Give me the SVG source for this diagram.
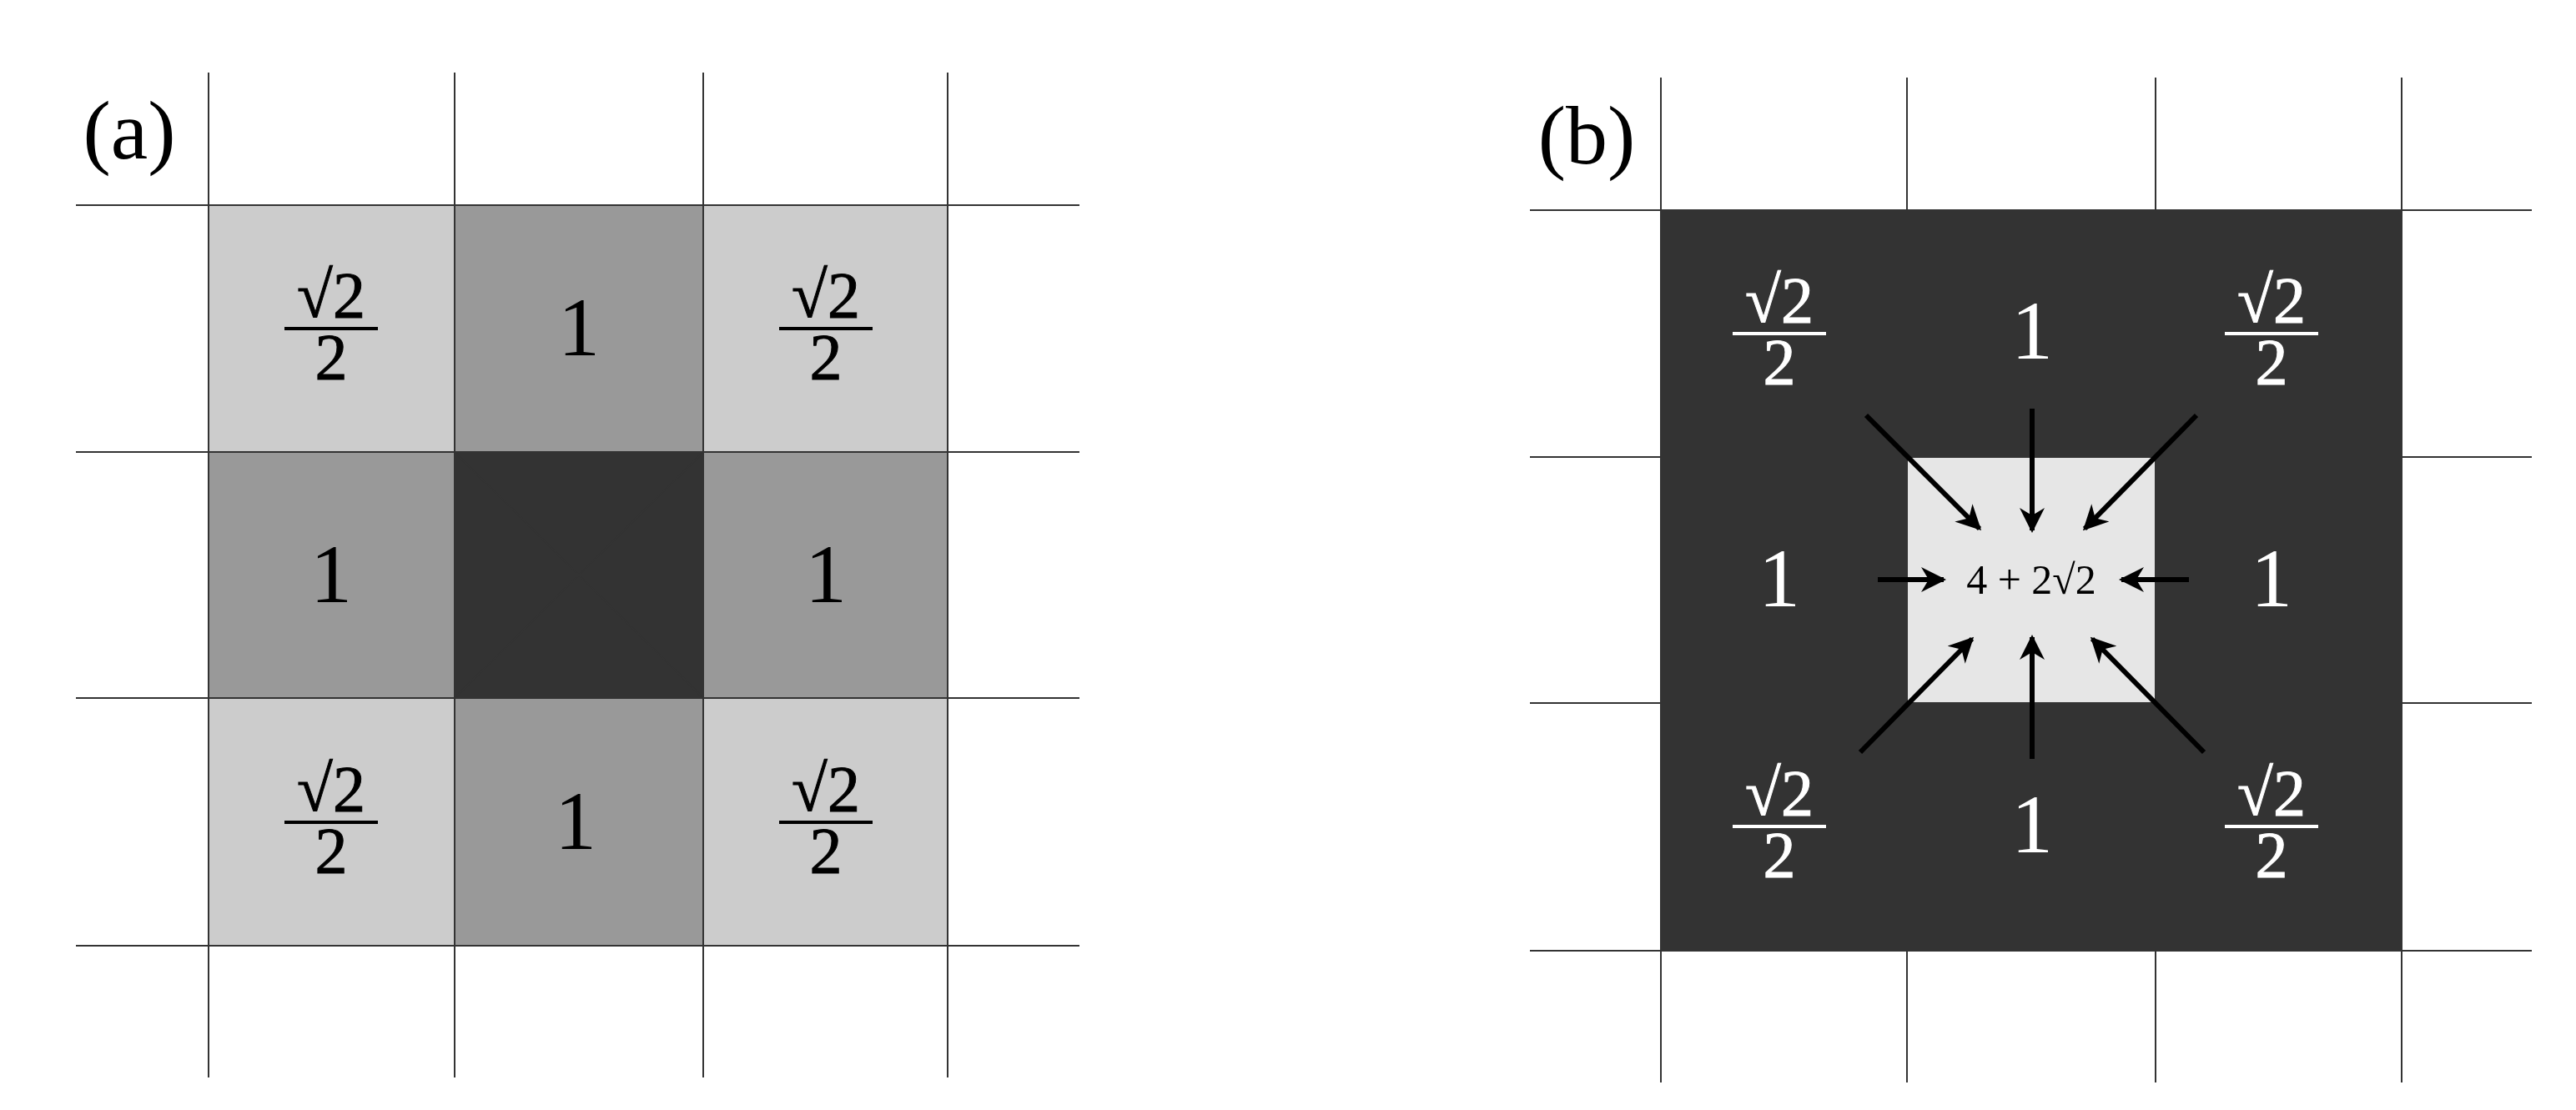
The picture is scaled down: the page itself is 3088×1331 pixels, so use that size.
<svg xmlns="http://www.w3.org/2000/svg" width="3088" height="1331" viewBox="0 0 3088 1331">
<style>
.g{stroke:#333;stroke-width:2;fill:none}
.t{font-family:"Liberation Serif",serif;text-anchor:middle}
.n{font-size:100px}
.f{font-size:78px}
.w{fill:#fff}
.k{fill:#000}
.ar{stroke:#000;stroke-width:6;fill:none;marker-end:url(#ah)}
</style>
<defs>
<marker id="ah" viewBox="0 0 10 10" refX="9" refY="5" markerWidth="5" markerHeight="5" orient="auto" markerUnits="strokeWidth"><path d="M0,0 L10,5 L0,10 L3,5 Z" fill="#000"/></marker>
<g id="frac"><text class="t f" x="0" y="-14">√2</text><line x1="-56" y1="0" x2="56" y2="0" stroke-width="4"/><text class="t f" x="0" y="60">2</text></g>
</defs>
<rect width="3088" height="1331" fill="#fff"/>
<g id="panelA">
<rect x="250" y="246" width="295" height="296" fill="#ccc"/>
<rect x="545" y="246" width="298" height="296" fill="#999"/>
<rect x="843" y="246" width="293" height="296" fill="#ccc"/>
<rect x="250" y="542" width="295" height="295" fill="#999"/>
<rect x="545" y="542" width="298" height="295" fill="#333"/>
<rect x="843" y="542" width="293" height="295" fill="#999"/>
<rect x="250" y="837" width="295" height="297" fill="#ccc"/>
<rect x="545" y="837" width="298" height="297" fill="#999"/>
<rect x="843" y="837" width="293" height="297" fill="#ccc"/>
<path class="g" d="M250 87V1292M545 87V1292M843 87V1292M1136 87V1292M91 246H1294M91 542H1294M91 837H1294M91 1134H1294M545 542L843 837M843 542L545 837"/>
<text class="t n" x="155" y="190" font-size="95">(a)</text>
<g fill="#000" stroke="#000"><use href="#frac" x="397" y="394"/><use href="#frac" x="990" y="394"/><use href="#frac" x="397" y="986"/><use href="#frac" x="990" y="986"/></g>
<g class="k"><text class="t n" x="694" y="426">1</text><text class="t n" x="397" y="722">1</text><text class="t n" x="990" y="722">1</text><text class="t n" x="690" y="1018">1</text></g>
</g>
<g id="panelB">
<rect x="1991" y="252" width="888" height="888" fill="#333"/>
<rect x="2286" y="548" width="298" height="295" fill="#e6e6e6"/>
<path class="g" d="M1991 93V1298M2286 93V1298M2584 93V1298M2879 93V1298M1834 252H3035M1834 548H3035M1834 843H3035M1834 1140H3035" stroke="#222"/>
<text class="t n" x="1902" y="196" font-size="95">(b)</text>
<g fill="#fff" stroke="#fff"><use href="#frac" x="2133" y="400"/><use href="#frac" x="2723" y="400"/><use href="#frac" x="2133" y="991"/><use href="#frac" x="2723" y="991"/></g>
<g class="w"><text class="t n" x="2436" y="430">1</text><text class="t n" x="2133" y="727">1</text><text class="t n" x="2723" y="727">1</text><text class="t n" x="2436" y="1022">1</text></g>
<text class="t k" x="2435" y="712" font-size="50">4 + 2√2</text>
</g>
<g id="connectors">
<line class="ar" x1="2237" y1="498" x2="2373" y2="634"/>
<line class="ar" x1="2436" y1="490" x2="2436" y2="636"/>
<line class="ar" x1="2633" y1="498" x2="2499" y2="634"/>
<line class="ar" x1="2251" y1="695" x2="2330" y2="695"/>
<line class="ar" x1="2624" y1="695" x2="2543" y2="695"/>
<line class="ar" x1="2230" y1="902" x2="2364" y2="766"/>
<line class="ar" x1="2436" y1="910" x2="2436" y2="764"/>
<line class="ar" x1="2642" y1="902" x2="2508" y2="766"/>
</g>
</svg>
